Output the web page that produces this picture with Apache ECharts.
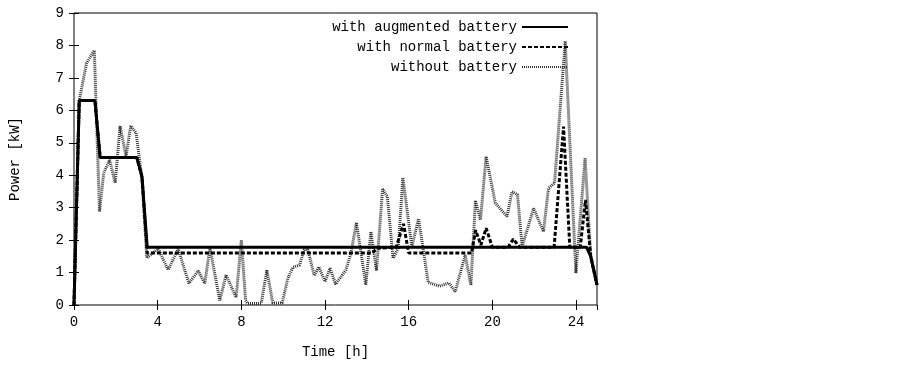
<!DOCTYPE html>
<html lang="en">
<head>
  <meta charset="UTF-8">
  <title>Power vs time</title>
  <script src="https://cdn.jsdelivr.net/npm/echarts@6/dist/echarts.min.js"></script>
</head>
<body style="margin:0;background:#fff;">
  <div id="main" style="width:902px;height:367px;"></div>
  <script>
    // series names (legend order)
    var seriesNames = ['with augmented battery', 'with normal battery', 'without battery'];

    // [time h, power kW]
    var augmented = [
      [0, 0], [0.25, 6.3], [1, 6.3], [1.25, 4.55], [3, 4.55], [3.25, 3.95],
      [3.5, 1.78], [24.5, 1.78], [24.7, 1.5], [25, 0.62]
    ];

    var normal = [
      [0, 0], [0.25, 6.3], [1, 6.3], [1.25, 4.55], [3, 4.55], [3.25, 3.95],
      [3.5, 1.6], [14.25, 1.6], [14.5, 1.75], [15.4, 1.78], [15.75, 2.5], [16, 1.6],
      [19, 1.6], [19.2, 2.3], [19.45, 1.85], [19.7, 2.37], [20, 1.78], [20.75, 1.78],
      [21, 2.03], [21.3, 1.78], [22.95, 1.78], [23.4, 5.5], [23.7, 1.78], [24.2, 1.78],
      [24.45, 3.24], [24.7, 1.5], [25, 0.62]
    ];

    var without = [
      [0, 0], [0.25, 6.3], [0.6, 7.45], [0.97, 7.85], [1.22, 2.88], [1.42, 4.07],
      [1.7, 4.47], [1.97, 3.76], [2.2, 5.52], [2.49, 4.58], [2.71, 5.52], [2.97, 5.3],
      [3.25, 3.9], [3.48, 1.45], [3.75, 1.6], [4.03, 1.73], [4.5, 1.08], [4.98, 1.73],
      [5.49, 0.67], [5.94, 1.05], [6.25, 0.67], [6.5, 1.75], [6.97, 0.14], [7.27, 0.93],
      [7.75, 0.23], [8.0, 2.0], [8.2, 0.15], [8.3, 0.05], [8.95, 0.05], [9.22, 1.08],
      [9.5, 0.06], [9.95, 0.06], [10.22, 0.82], [10.46, 1.16], [10.78, 1.23], [11.0, 1.7],
      [11.17, 1.72], [11.49, 0.9], [11.7, 1.18], [12.0, 0.72], [12.24, 1.13], [12.5, 0.64],
      [13.0, 1.08], [13.24, 1.6], [13.5, 2.54], [13.95, 0.62], [14.19, 2.26], [14.46, 1.06],
      [14.75, 3.57], [14.98, 3.34], [15.25, 1.44], [15.5, 1.75], [15.72, 3.92], [16.15, 1.8],
      [16.47, 2.66], [16.93, 0.7], [17.47, 0.58], [17.92, 0.68], [18.22, 0.41], [18.7, 1.54],
      [18.97, 0.62], [19.19, 3.22], [19.43, 2.62], [19.7, 4.58], [20.14, 3.14], [20.7, 2.73],
      [20.94, 3.5], [21.2, 3.4], [21.42, 1.8], [21.97, 2.98], [22.44, 2.26], [22.68, 3.6],
      [22.97, 3.76], [23.48, 8.13], [23.99, 0.98], [24.43, 4.53], [24.7, 1.5], [25, 0.62]
    ];

    var font = 'Liberation Mono';
    var myChart = echarts.init(document.getElementById('main'));

    // gnuplot style box with inward ticks on all four sides
    function axisBase(extra) {
      return Object.assign({
        type: 'value',
        axisLine: { show: false },
        splitLine: { show: false },
        axisTick: { show: true, inside: true, length: 5, lineStyle: { color: '#000', width: 1 } }
      }, extra);
    }

    var option = {
      animation: false,
      backgroundColor: '#fff',
      grid: {
        left: 72, right: 305, top: 13, bottom: 62,
        show: true, borderColor: '#000', borderWidth: 1, backgroundColor: 'transparent'
      },
      legend: {
        orient: 'vertical',
        right: 328,
        top: 15,
        align: 'right',
        itemWidth: 46,
        itemHeight: 14,
        itemGap: 6,
        // only the line sample, no marker circle
        itemStyle: { color: 'transparent', borderColor: 'transparent', borderWidth: 0, opacity: 0 },
        textStyle: { fontFamily: font, fontSize: 14, color: '#000' },
        data: seriesNames
      },
      xAxis: [
        axisBase({
          position: 'bottom', min: 0, max: 25, interval: 4,
          name: 'Time [h]', nameLocation: 'middle', nameGap: 40,
          nameTextStyle: { fontFamily: font, fontSize: 14, color: '#000' },
          axisLabel: { fontFamily: font, fontSize: 14, color: '#000', margin: 10, showMaxLabel: false }
        }),
        axisBase({
          position: 'top', min: 0, max: 25, interval: 4,
          axisLabel: { show: false }
        })
      ],
      yAxis: [
        axisBase({
          position: 'left', min: 0, max: 9, interval: 1,
          name: 'Power [kW]', nameLocation: 'middle', nameGap: 52, nameRotate: 90,
          nameTextStyle: { fontFamily: font, fontSize: 14, color: '#000' },
          axisLabel: { fontFamily: font, fontSize: 14, color: '#000', margin: 10 }
        }),
        axisBase({
          position: 'right', min: 0, max: 9, interval: 1,
          axisLabel: { show: false }
        })
      ],
      series: [
        {
          name: seriesNames[0], type: 'line', data: augmented,
          symbol: 'none', z: 4, color: '#000',
          lineStyle: { color: '#000', width: 3, type: 'solid' }
        },
        {
          name: seriesNames[1], type: 'line', data: normal,
          symbol: 'none', z: 3, color: '#000',
          lineStyle: { color: '#000', width: 3, type: [4, 2] }
        },
        {
          name: seriesNames[2], type: 'line', data: without,
          symbol: 'none', z: 2, color: '#333',
          lineStyle: { color: '#333', width: 3, type: [1, 1] }
        }
      ]
    };

    myChart.setOption(option);
  </script>
</body>
</html>
